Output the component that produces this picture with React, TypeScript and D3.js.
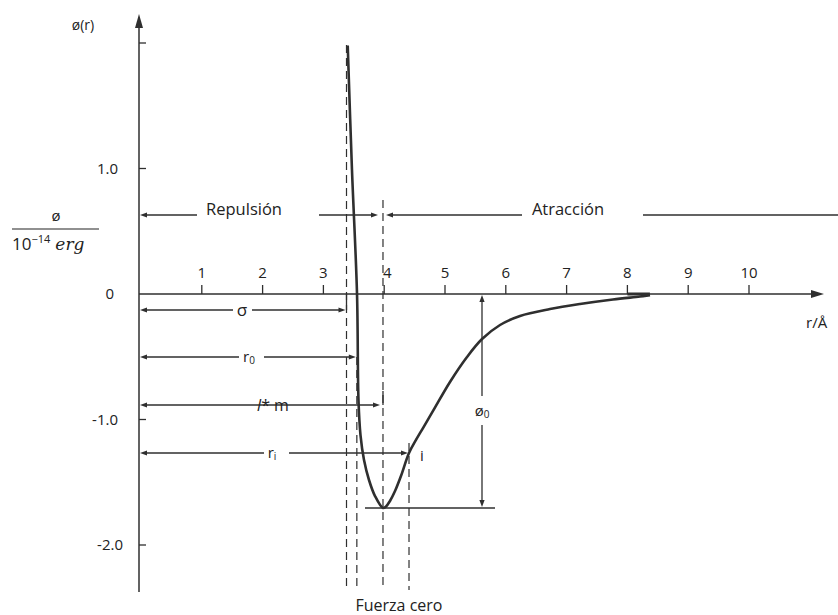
import * as d3 from "d3";
import React from "react";

const W = 838;
const H = 615;

// curve: r in Å, phi in 10^-14 erg
const rValues = [
  3.4, 3.47, 3.553, 3.577, 3.61, 3.668, 3.75, 3.849, 3.98, 4.03, 4.095, 4.178, 4.276, 4.408, 4.523,
  4.638, 4.803, 5.082, 5.362, 5.609, 5.905, 6.234, 6.727, 7.22, 7.763, 8.207, 8.372,
];
const phiValues = [
  1.98, 0.99, 0, -0.845, -1.124, -1.323, -1.482, -1.61, -1.705, -1.693, -1.649, -1.57, -1.45, -1.267, -1.163,
  -1.068, -0.932, -0.701, -0.502, -0.359, -0.247, -0.175, -0.12, -0.08, -0.044, -0.02, -0.01,
];

const xTicks = [1, 2, 3, 4, 5, 6, 7, 8, 9, 10];
const yTicks = [2, 1, 0, -1, -2];
const yTickLabels = ["", "1.0", "0", "-1.0", "-2.0"];

// marked distances
const sigma = 3.38;
const r0 = 3.55;
const rm = 3.98;
const ri = 4.408;
const phi0 = -1.705;
const phiI = -1.267;

const INK = "#2f2f2f";
const TXT = "#222";
const FONT = "'Open Sans', 'Noto Sans', sans-serif";

const x = d3.scaleLinear().domain([0, 10]).range([141, 749]);
const y = d3.scaleLinear().domain([2, -2]).range([43, 545]);

// small filled arrow head, tip at (tx, ty)
function head(tx: number, ty: number, dir: "l" | "r" | "u" | "d", L = 7, w = 2.6) {
  let pts: number[][] = [];
  if (dir === "l") pts = [[tx, ty], [tx + L, ty - w], [tx + L, ty + w]];
  if (dir === "r") pts = [[tx, ty], [tx - L, ty - w], [tx - L, ty + w]];
  if (dir === "u") pts = [[tx, ty], [tx - w, ty + L], [tx + w, ty + L]];
  if (dir === "d") pts = [[tx, ty], [tx - w, ty - L], [tx + w, ty - L]];
  return <polygon points={pts.map((p) => p.join(",")).join(" ")} fill={INK} />;
}

function Seg({ x1, y1, x2, y2, w = 1.3, dash }: any) {
  return <line x1={x1} y1={y1} x2={x2} y2={y2} stroke={INK} strokeWidth={w} strokeDasharray={dash} />;
}

export default function App() {
  const data = rValues.map((r, i) => [r, phiValues[i]] as [number, number]);
  const line = d3
    .line<[number, number]>()
    .x((d) => x(d[0]))
    .y((d) => y(d[1]))
    .curve(d3.curveCatmullRom.alpha(0.5));

  const ax = 139;
  const y0 = y(0);
  const rowRep = 215;
  const rowSigma = 310;
  const rowR0 = 357;
  const rowLm = 405;
  const rowRi = y(phiI);
  const dashBottom = 590;
  const dash = "8,5";

  return (
    <svg
      width={W}
      height={H}
      style={{ position: "absolute", left: 0, top: 0, background: "#fff" }}
      fontFamily={FONT}
    >
      {/* axes */}
      <Seg x1={ax} y1={592} x2={ax} y2={26} w={1.5} />
      {head(ax, 14, "u", 14, 4)}
      <Seg x1={ax} y1={y0} x2={812} y2={y0} w={1.5} />
      {head(824, y0, "r", 13, 4)}
      {yTicks.map((t, i) => (
        <g key={t}>
          {t !== 0 && <Seg x1={ax} y1={y(t)} x2={ax + 7} y2={y(t)} w={1.3} />}
          <text
            x={t === 0 ? 114 : t < -1 ? 123 : 118}
            y={y(t) + 5}
            fontSize={15}
            fill={TXT}
            textAnchor="end"
          >
            {yTickLabels[i]}
          </text>
        </g>
      ))}
      {xTicks.map((t) => (
        <g key={t}>
          <Seg x1={x(t)} y1={y0 - 9} x2={x(t)} y2={y0} w={1.3} />
          <text x={x(t) + (t === 4 ? 3 : 0)} y={y0 - 16} fontSize={15} fill={TXT} textAnchor="middle">
            {t}
          </text>
        </g>
      ))}

      {/* axis titles */}
      <text x={83} y={30} fontSize={14} fill={TXT} textAnchor="middle">ø(r)</text>
      <text x={56} y={221} fontSize={15} fill={TXT} textAnchor="middle">ø</text>
      <line x1={12} y1={229} x2={99} y2={229} stroke={TXT} strokeWidth={1.2} />
      <text x={12} y={250} fontSize={17} fill={TXT}>
        10
        <tspan fontSize={11} dy={-7}>−14</tspan>
        <tspan dy={7} dx={5} fontFamily="'DejaVu Serif', serif" fontStyle="italic">erg</tspan>
      </text>
      <text x={806} y={328} fontSize={15} fill={TXT}>r/Å</text>

      {/* Repulsión / Atracción row */}
      {head(ax + 1, rowRep, "l")}
      <Seg x1={ax + 6} y1={rowRep} x2={197} y2={rowRep} />
      <text x={244} y={rowRep} fontSize={16.5} fill={TXT} textAnchor="middle">Repulsión</text>
      <Seg x1={319} y1={rowRep} x2={372} y2={rowRep} />
      {head(378, rowRep, "r")}
      {head(386, rowRep, "l")}
      <Seg x1={392} y1={rowRep} x2={522} y2={rowRep} />
      <text x={568} y={rowRep} fontSize={16.5} fill={TXT} textAnchor="middle">Atracción</text>
      <Seg x1={643} y1={rowRep} x2={838} y2={rowRep} />

      {/* dashed verticals */}
      <Seg x1={x(sigma)} y1={45} x2={x(sigma)} y2={dashBottom} dash={dash} w={1.2} />
      <Seg x1={x(r0)} y1={rowR0} x2={x(r0)} y2={dashBottom} dash={dash} w={1.2} />
      <Seg x1={x(rm)} y1={200} x2={x(rm)} y2={dashBottom} dash={dash} w={1.2} />
      <Seg x1={x(ri)} y1={rowRi - 10} x2={x(ri)} y2={dashBottom} dash={dash} w={1.2} />

      {/* sigma */}
      {head(ax + 1, rowSigma, "l")}
      <Seg x1={ax + 6} y1={rowSigma} x2={233} y2={rowSigma} />
      <text x={242} y={rowSigma + 6} fontSize={17} fill={TXT} textAnchor="middle">σ</text>
      <Seg x1={252} y1={rowSigma} x2={x(sigma) - 5} y2={rowSigma} />
      {head(x(sigma) - 1, rowSigma, "r")}
      <Seg x1={x(sigma)} y1={y0} x2={x(sigma)} y2={rowSigma} />

      {/* r0 */}
      {head(ax + 1, rowR0, "l")}
      <Seg x1={ax + 6} y1={rowR0} x2={239} y2={rowR0} />
      <text x={249} y={rowR0 + 5} fontSize={15} fill={TXT} textAnchor="middle">
        r<tspan fontSize={10} dy={2}>0</tspan>
      </text>
      <Seg x1={264} y1={rowR0} x2={x(r0) - 6} y2={rowR0} />
      {head(x(r0) - 1, rowR0, "r")}

      {/* l* m */}
      {head(ax + 1, rowLm, "l")}
      <Seg x1={ax + 6} y1={rowLm} x2={x(rm) - 7} y2={rowLm} />
      {head(x(rm) - 3, rowLm, "r")}
      <Seg x1={x(rm)} y1={rowLm - 14} x2={x(rm)} y2={rowLm} />
      <text x={273} y={rowLm + 6} fontSize={16} fill={TXT} textAnchor="middle">
        <tspan fontStyle="italic">l</tspan>* m
      </text>

      {/* ri */}
      {head(ax + 1, rowRi, "l")}
      <Seg x1={ax + 6} y1={rowRi} x2={264} y2={rowRi} />
      <text x={272} y={rowRi + 5} fontSize={15} fill={TXT} textAnchor="middle">
        r<tspan fontSize={10} dy={2}>i</tspan>
      </text>
      <Seg x1={289} y1={rowRi} x2={x(ri) - 6} y2={rowRi} />
      {head(x(ri) - 1, rowRi, "r")}
      <text x={420} y={rowRi + 8} fontSize={15} fill={TXT}>i</text>

      {/* phi0 */}
      <Seg x1={x(rm) - 18} y1={y(phi0)} x2={495} y2={y(phi0)} />
      {head(482, y0 + 1, "u")}
      <Seg x1={482} y1={y0 + 6} x2={482} y2={396} />
      <text x={482} y={416} fontSize={15} fill={TXT} textAnchor="middle">
        ø<tspan fontSize={10} dy={2}>0</tspan>
      </text>
      <Seg x1={482} y1={425} x2={482} y2={y(phi0) - 6} />
      {head(482, y(phi0) - 1, "d")}

      {/* potential curve */}
      <path d={line(data) ?? ""} fill="none" stroke={INK} strokeWidth={2.6} strokeLinejoin="round" />
      <Seg x1={x(8)} y1={y0} x2={x(8.37)} y2={y0} w={3} />

      <text x={399} y={611} fontSize={16} fill={TXT} textAnchor="middle">Fuerza cero</text>
    </svg>
  );
}
